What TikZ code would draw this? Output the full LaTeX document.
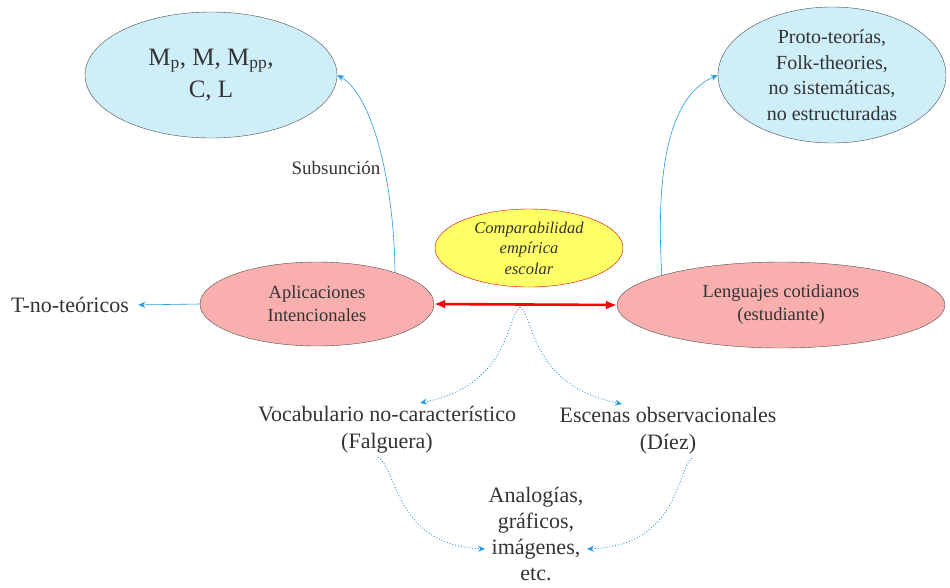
\documentclass[tikz,border=0pt]{standalone}
\usepackage{fontspec}
\setmainfont{Liberation Serif}
\usetikzlibrary{shapes.geometric, arrows.meta, positioning}

\definecolor{skyfill}{RGB}{206,238,250}
\definecolor{pinkfill}{RGB}{250,175,175}
\definecolor{lemonfill}{RGB}{255,255,102}
\definecolor{linkblue}{RGB}{35,155,230}
\definecolor{inkgray}{RGB}{51,51,51}

\begin{document}
\begin{tikzpicture}[
  x=1pt, y=-1pt,
  theory/.style={ellipse, draw=gray!60!black, fill=skyfill, inner sep=0pt, align=center, text=inkgray},
  appl/.style={ellipse, draw=gray!60!black, fill=pinkfill, inner sep=0pt, align=center, text=inkgray, font=\fontsize{18.5}{23}\selectfont},
  compar/.style={ellipse, draw=red!85!black, fill=lemonfill, inner sep=0pt, align=center, text=inkgray, font=\fontsize{16.5}{20.5}\selectfont\itshape},
  plain/.style={align=center, text=inkgray, font=\fontsize{22}{27}\selectfont},
  link/.style={-{Stealth[length=7pt, width=6pt]}, linkblue, semithick},
  hint/.style={-{Stealth[length=7pt, width=6pt]}, linkblue, dotted, line width=0.9pt},
  pair/.style={{Latex[length=11pt, width=9pt]}-{Latex[length=11pt, width=9pt]}, red, line width=2.6pt}
]
\useasboundingbox (0,0) rectangle (950,587);

% Upper ellipses
\node[theory, minimum width=252pt, minimum height=126pt, font=\fontsize{25}{32}\selectfont] (models) at (211,75) {M\textsubscript{p}, M, M\textsubscript{pp},\\C, L};
\node[theory, minimum width=228pt, minimum height=136pt, font=\fontsize{20}{25.5}\selectfont] (proto) at (832,75) {Proto-teorías,\\Folk-theories,\\no sistemáticas,\\no estructuradas};

% Middle row
\node[appl, minimum width=234pt, minimum height=84pt] (apl) at (317,304) {Aplicaciones\\Intencionales};
\node[appl, minimum width=328pt, minimum height=86pt] (leng) at (781,305) {Lenguajes cotidianos\\(estudiante)};
\node[compar, minimum width=188pt, minimum height=78pt] (comp) at (529,248) {Comparabilidad\\empírica\\escolar};
\node[plain] (tno) at (70,305) {T-no-teóricos};
\node[plain, font=\fontsize{19}{23}\selectfont] (subs) at (336,168) {Subsunción};

% Lower texts
\node[plain] (voc) at (387,430) {Vocabulario no-característico\\(Falguera)};
\node[plain] (esc) at (668,431) {Escenas observacionales\\(Díez)};
\node[plain, font=\fontsize{22}{26}\selectfont] (ana) at (536,534) {Analogías,\\gráficos,\\imágenes,\\etc.};

% Arrows
\draw[link, shorten >=6pt] (apl.west) -- (tno.east);
\draw[link] (apl.22) .. controls (394,180) and (372,95) .. (models.east);
\draw[link] (leng.166) .. controls (655,160) and (672,95) .. (proto.west);
\draw[pair] (apl.east) -- (leng.west);

% Dotted branches
\coordinate (split) at (520,307);
\draw[hint] (split) .. controls (506,318) and (510,385) .. ([xshift=33pt]voc.north);
\draw[hint] (split) .. controls (535,318) and (530,385) .. ([xshift=-46pt]esc.north);
\draw[hint] ([xshift=-9pt]voc.south) .. controls (398,470) and (395,545) .. ([yshift=-15pt]ana.west);
\draw[hint] ([xshift=24pt]esc.south) .. controls (676,470) and (680,545) .. ([yshift=-15pt]ana.east);
\end{tikzpicture}
\end{document}
